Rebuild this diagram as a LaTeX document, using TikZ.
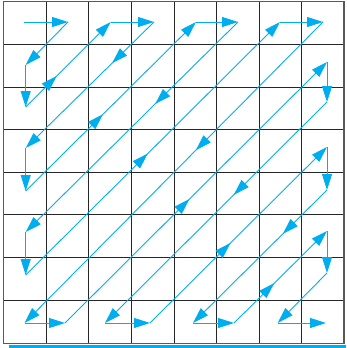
\documentclass[tikz,border=0pt]{standalone}
\usetikzlibrary{arrows.meta,decorations.markings}
\definecolor{scan}{RGB}{0,174,239}
\begin{document}
\begin{tikzpicture}[x=1pt,y=-1pt,
  flow/.style={draw=scan, line width=0.9pt, -{Triangle[length=16pt,width=10pt]}},
  midtip/.style={postaction={decorate}, decoration={markings, mark=at position #1 with {\arrow[scan]{Triangle[length=16pt,width=10pt]}}}},
  gridline/.style={draw=black!85, line width=1pt},
  frame/.style={draw=black!65, line width=1.6pt}]
\useasboundingbox (0,0) rectangle (346,348);
% grid
\foreach \gx in {46,88.7,131.3,174,216.5,259.2,301.8}
  \draw[gridline] (\gx,1.5) -- (\gx,343.3);
\foreach \gy in {44,87,129.5,172,214.7,257,300}
  \draw[gridline] (3.5,\gy) -- (344,\gy);
\draw[frame] (3.5,1.5) rectangle (344,343.3);
\fill[scan] (9.3,344.5) rectangle (346,348);
% scan points
\coordinate (t0) at (24,22);
\coordinate (t1) at (68,22);
\coordinate (t2) at (110.7,22);
\coordinate (t3) at (154,22);
\coordinate (t4) at (196,22);
\coordinate (t5) at (238,22);
\coordinate (t6) at (280,22);
\coordinate (t7) at (323,22);
\coordinate (l1) at (25.7,65);
\coordinate (l2) at (25.7,107);
\coordinate (l3) at (25.7,148);
\coordinate (l4) at (25.7,191);
\coordinate (l5) at (25.7,232);
\coordinate (l6) at (25.7,275);
\coordinate (b0) at (24.5,323);
\coordinate (b1) at (65,323);
\coordinate (b2) at (105,323);
\coordinate (b3) at (150,323);
\coordinate (b4) at (193,323);
\coordinate (b5) at (234,323);
\coordinate (b6) at (277.7,323);
\coordinate (b7) at (326,323);
\coordinate (r1) at (327,62);
\coordinate (r2) at (327,102);
\coordinate (r3) at (327,147);
\coordinate (r4) at (327,190);
\coordinate (r5) at (327,231);
\coordinate (r6) at (327,273);
% zigzag
\draw[flow] (t0) -- (t1);
\draw[flow] (t1) -- (l1);
\draw[flow] (l1) -- (l2);
\draw[flow,midtip=0.365] (l2) -- (t2);
\draw[flow] (t2) -- (t3);
\draw[flow,midtip=0.327] (t3) -- (l3);
\draw[flow] (l3) -- (l4);
\draw[flow,midtip=0.454] (l4) -- (t4);
\draw[flow] (t4) -- (t5);
\draw[flow,midtip=0.39] (t5) -- (l5);
\draw[flow] (l5) -- (l6);
\draw[flow,midtip=0.48] (l6) -- (t6);
\draw[flow] (t6) -- (t7);
\draw[flow,midtip=0.426] (t7) -- (b0);
\draw[flow] (b0) -- (b1);
\draw[flow,midtip=0.475] (b1) -- (r1);
\draw[flow] (r1) -- (r2);
\draw[flow,midtip=0.42] (r2) -- (b2);
\draw[flow] (b2) -- (b3);
\draw[flow,midtip=0.455] (b3) -- (r3);
\draw[flow] (r3) -- (r4);
\draw[flow,midtip=0.33] (r4) -- (b4);
\draw[flow] (b4) -- (b5);
\draw[flow,midtip=0.433] (b5) -- (r5);
\draw[flow] (r5) -- (r6);
\draw[flow] (r6) -- (b6);
\draw[flow] (b6) -- (b7);
\end{tikzpicture}
\end{document}
